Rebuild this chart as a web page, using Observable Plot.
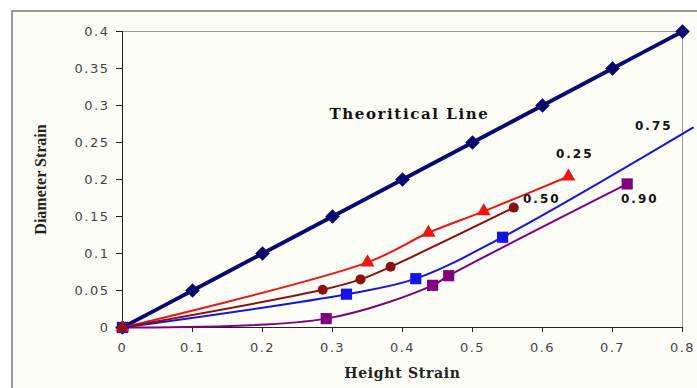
<!DOCTYPE html>
<html><head><meta charset="utf-8">
<script src="https://cdn.jsdelivr.net/npm/d3@7"></script>
<script src="https://cdn.jsdelivr.net/npm/@observablehq/plot@0.6"></script>
<style>
html,body{margin:0;padding:0;background:#fff;}
#wrap{position:relative;width:697px;height:388px;overflow:hidden;}
#bg{position:absolute;left:11px;top:10px;right:0;bottom:0;background:#fdfdf8;border-left:2px solid #999;border-top:2px solid #999;}
#chart{position:absolute;left:0;top:0;}
#chart svg{background:transparent !important;overflow:visible;}
</style></head><body>
<div id="wrap"><div id="bg"></div><div id="chart"></div></div>
<script>
// Tick values and labels
const xTicks = [0, 0.1, 0.2, 0.3, 0.4, 0.5, 0.6, 0.7, 0.8];
const xTickLabels = ["0", "0.1", "0.2", "0.3", "0.4", "0.5", "0.6", "0.7", "0.8"];
const yTicks = [0, 0.05, 0.1, 0.15, 0.2, 0.25, 0.3, 0.35, 0.4];
const yTickLabels = ["0", "0.05", "0.1", "0.15", "0.2", "0.25", "0.3", "0.35", "0.4"];

// Theoretical line
const theoX = [0, 0.1, 0.2, 0.3, 0.4, 0.5, 0.6, 0.7, 0.8];
const theoY = [0, 0.05, 0.1, 0.15, 0.2, 0.25, 0.3, 0.35, 0.4];
// 0.25
const s25X = [0, 0.35, 0.437, 0.516, 0.637];
const s25Y = [0, 0.088, 0.128, 0.157, 0.204];
// 0.50
const s50X = [0, 0.286, 0.34, 0.383, 0.559];
const s50Y = [0, 0.051, 0.065, 0.082, 0.162];
// 0.75
const s75X = [0, 0.32, 0.419, 0.543, 0.815];
const s75Y = [0, 0.045, 0.066, 0.122, 0.27];
// 0.90
const s90X = [0, 0.291, 0.443, 0.466, 0.721];
const s90Y = [0, 0.012, 0.057, 0.070, 0.194];

// Annotation labels
const labelText = ["Theoritical Line", "0.25", "0.50", "0.75", "0.90"];
const labelX = [0.41, 0.646, 0.599, 0.759, 0.739];
const labelY = [0.288, 0.234, 0.174, 0.272, 0.174];

const pts = (xs, ys) => xs.map((x, i) => ({x, y: ys[i]}));
const series = [
  {name: "Theoritical", data: pts(theoX, theoY), color: "#08086e", symbol: "diamond2", r: 6.6, sw: 3.8},
  {name: "0.90", data: pts(s90X, s90Y), color: "#800080", symbol: "square", r: 6.3, sw: 2},
  {name: "0.75", data: pts(s75X, s75Y), color: "#1414e6", symbol: "square", r: 6.3, sw: 2},
  {name: "0.25", data: pts(s25X, s25Y), color: "#ee1515", symbol: "triangle", r: 5.2, sw: 2},
  {name: "0.50", data: pts(s50X, s50Y), color: "#8c1010", symbol: "circle", r: 5, sw: 2}
];

const marks = [
  Plot.frame({stroke: "#999", strokeWidth: 1}),
  Plot.axisX({ticks: xTicks, tickFormat: d => xTickLabels[xTicks.indexOf(d)], tickSize: 5, tickPadding: 10,
    fontSize: 13, fontFamily: "DejaVu Sans", fill: "#444", stroke: "#222", label: null}),
  Plot.axisY({ticks: yTicks, tickFormat: d => yTickLabels[yTicks.indexOf(d)], tickSize: 6, tickPadding: 7,
    fontSize: 13, fontFamily: "DejaVu Sans", fill: "#444", stroke: "#222", label: null}),
  Plot.ruleX([0], {stroke: "#222"}),
  Plot.ruleY([0], {stroke: "#222"})
];
for (const s of series) {
  marks.push(Plot.line(s.data, {x: "x", y: "y", stroke: s.color, strokeWidth: s.sw, curve: "catmull-rom"}));
}
for (const s of series) {
  marks.push(Plot.dot(s.data.filter(d => d.x <= 0.8), {x: "x", y: "y", symbol: () => s.symbol, r: s.r, fill: s.color, stroke: "none"}));
}
marks.push(
  Plot.text(labelText.slice(0, 1), {x: (d, i) => labelX[i], y: (d, i) => labelY[i], text: d => d,
    fontFamily: "DejaVu Serif", fontWeight: "bold", fontSize: 15, fill: "#111"}),
  Plot.text(labelText.slice(1), {x: (d, i) => labelX[i + 1], y: (d, i) => labelY[i + 1], text: d => d,
    fontFamily: "DejaVu Sans", fontWeight: "bold", fontSize: 12, fill: "#111"}),
  Plot.text(["Height Strain"], {frameAnchor: "bottom", dy: 46, lineAnchor: "middle", textAnchor: "middle", text: d => d,
    fontFamily: "DejaVu Serif", fontWeight: "bold", fontSize: 14, fill: "#222"}),
  Plot.text(["Diameter Strain"], {frameAnchor: "left", dx: -82, rotate: -90, textAnchor: "middle", lineAnchor: "middle", text: d => d,
    fontFamily: "Liberation Serif", fontWeight: "bold", fontSize: 16, fill: "#222"})
);

const chart = Plot.plot({
  width: 697, height: 388,
  marginLeft: 122, marginRight: 15, marginTop: 31, marginBottom: 61,
  style: {background: "transparent", overflow: "visible"},
  x: {domain: [0, 0.8]},
  y: {domain: [0, 0.4]},
  marks
});
// letter spacing to mimic the horizontally stretched lettering of the original
const spacing = [
  ["DejaVu Sans", "13", "1.5px"],
  ["DejaVu Sans", "12", "2px"],
  ["DejaVu Serif", "15", "1.6px"],
  ["DejaVu Serif", "14", "0.7px"]
];
d3.select(chart).selectAll("g").each(function () {
  const ff = this.getAttribute("font-family"), fs = this.getAttribute("font-size");
  for (const [f, s, ls] of spacing) {
    if (ff === f && String(fs) === s) this.setAttribute("letter-spacing", ls);
  }
});
document.getElementById("chart").appendChild(chart);
</script>
</body></html>
